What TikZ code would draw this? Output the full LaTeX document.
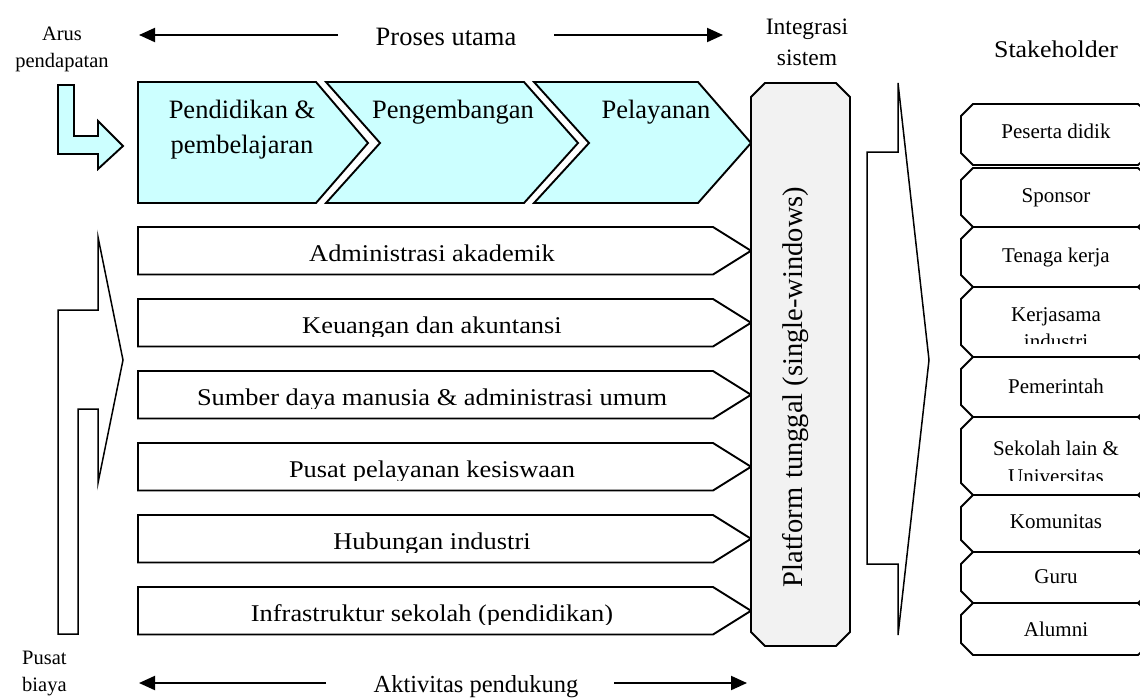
\documentclass[tikz,border=0pt]{standalone}
\usepackage{fontspec}
\setmainfont{Liberation Serif}
\usepackage{graphicx}
\usetikzlibrary{arrows.meta}
\definecolor{chevfill}{HTML}{CCFFFF}
\definecolor{platfill}{HTML}{F2F2F2}
\newcommand\hstretch[1]{\scalebox{1.1}[1]{#1}}
\tikzset{
 boxline/.style={draw=black, line width=1.9pt, line join=miter},
 thinline/.style={draw=black, line width=1.5pt, line join=miter},
 bigtxt/.style={font=\fontsize{26.5}{35}\selectfont, inner sep=0pt},
 midtxt/.style={font=\fontsize{23.5}{31}\selectfont, inner sep=0pt},
 lbltxt/.style={font=\fontsize{20.5}{27}\selectfont, inner sep=0pt},
 rowtxt/.style={font=\fontsize{24}{28}\selectfont, inner sep=0pt, anchor=base},
 sktxt/.style={font=\fontsize{21}{26}\selectfont, inner sep=0pt},
 flowarrow/.style={line width=2pt, -{Triangle[length=16pt,width=14pt]}},
}
\newcommand\supportrow[3]{%
 \draw[boxline, fill=white] (138,#2) -- (713,#2) -- (751,#2+23.75) -- (713,#2+47.5) -- (138,#2+47.5) -- cycle;
 \begin{scope}
 \clip (139,#2) rectangle (749,#2+37.5);
 \node[rowtxt] (#1) at (432,#2+34.5) {\hstretch{#3}};
 \end{scope}}
\newcommand\stakebox[2]{%
 \draw[boxline, fill=white] (973,#1) -- (1138,#1) -- (1151,#1+12) -- (1151,#2-12) -- (1138,#2) -- (973,#2) -- (961,#2-12) -- (961,#1+12) -- cycle;}
\begin{document}
\begin{tikzpicture}[x=1pt,y=-1pt]
\useasboundingbox (0,0) rectangle (1140,697);

% ---- headings ----
\node[lbltxt, align=center] (arus) at (62,49) {Arus\\pendapatan};
\node[bigtxt, anchor=base] (proses) at (446,45) {Proses utama};
\node[midtxt, align=center] (integrasi) at (807,42) {Integrasi\\sistem};
\node[bigtxt, font=\fontsize{24}{30}\selectfont, anchor=base] (stakeholder) at (1056,57) {\scalebox{1.08}[1]{Stakeholder}};
\node[lbltxt, align=left, anchor=west] (pusat) at (22,673) {Pusat\\biaya};
\node[bigtxt, font=\fontsize{24.5}{30}\selectfont, anchor=base] (aktivitas) at (476,692) {Aktivitas pendukung};

\coordinate (pAs) at (338,35);  \coordinate (pAe) at (139,35);
\coordinate (pBs) at (554,35);  \coordinate (pBe) at (723,35);
\draw[flowarrow] (pAs) -- (pAe);
\draw[flowarrow] (pBs) -- (pBe);
\coordinate (aAs) at (326,683); \coordinate (aAe) at (139,683);
\coordinate (aBs) at (614,683); \coordinate (aBe) at (747,683);
\draw[flowarrow] (aAs) -- (aAe);
\draw[flowarrow] (aBs) -- (aBe);

% ---- revenue arrow ----
\draw[boxline, fill=chevfill] (58,85) -- (74,85) -- (74,136) -- (98,136) -- (98,121) -- (123,146) -- (98,169) -- (98,154) -- (58,154) -- cycle;

% ---- main process chevrons ----
\draw[boxline, fill=chevfill] (138,82) -- (316,82) -- (368,143) -- (316,203) -- (138,203) -- cycle;
\draw[boxline, fill=chevfill] (326,82) -- (524,82) -- (578,143) -- (524,203) -- (326,203) -- (380,143) -- cycle;
\draw[boxline, fill=chevfill] (534,82) -- (698,82) -- (751,143) -- (698,203) -- (534,203) -- (589,143) -- cycle;
\node[bigtxt, align=center] (pendidikan) at (242,129.3) {Pendidikan \&\\pembelajaran};
\node[bigtxt, anchor=base] (pengembangan) at (453,118) {Pengembangan};
\node[bigtxt, anchor=base] (pelayanan) at (656,118) {Pelayanan};

% ---- support activities ----
\supportrow{adm}{227}{Administrasi akademik}
\supportrow{keu}{299}{Keuangan dan akuntansi}
\supportrow{sdm}{371}{Sumber daya manusia \& administrasi umum}
\supportrow{pus}{443}{Pusat pelayanan kesiswaan}
\supportrow{hub}{515}{Hubungan industri}
\supportrow{inf}{587}{Infrastruktur sekolah (pendidikan)}

% ---- cost arrow ----
\draw[thinline] (58,310) -- (98,310) -- (98,237) -- (123,360) -- (98,483) -- (98,409) -- (78,409) -- (78,634) -- (58,634) -- cycle;

% ---- platform ----
\draw[boxline, fill=platfill] (765,83) -- (836,83) -- (850,97) -- (850,632) -- (836,646) -- (765,646) -- (751,632) -- (751,97) -- cycle;
\node[bigtxt, font=\fontsize{28.5}{32}\selectfont, rotate=90] (platform) at (796,387) {Platform\hspace{9pt}tunggal (single-windows)};

% ---- big output arrow ----
\draw[thinline] (867,152) -- (898,152) -- (898,83) -- (929,360) -- (898,635) -- (898,564) -- (867,564) -- cycle;

% ---- stakeholders ----
\begin{scope}
\clip (0,0) rectangle (1140,697);
\stakebox{104}{165}
\stakebox{168}{227}
\stakebox{227}{287}
\stakebox{287}{357}
\stakebox{357}{417}
\stakebox{417}{495}
\stakebox{495}{552}
\stakebox{552}{603}
\stakebox{603}{655}
\end{scope}
\node[sktxt, anchor=base] (peserta) at (1056,138) {Peserta didik};
\node[sktxt, anchor=base] (sponsor) at (1056,202) {Sponsor};
\node[sktxt, anchor=base] (tenaga) at (1056,262) {Tenaga kerja};
\begin{scope}
\clip (962,288) rectangle (1139,343);
\node[sktxt, font=\fontsize{21}{27}\selectfont, align=center] (kerjasama) at (1056,328) {Kerjasama\\industri};
\end{scope}
\node[sktxt, anchor=base] (pemerintah) at (1056,393) {Pemerintah};
\begin{scope}
\clip (962,418) rectangle (1139,480);
\node[sktxt, font=\fontsize{21}{28}\selectfont, align=center] (sekolah) at (1056,462) {Sekolah lain \&\\Universitas};
\end{scope}
\node[sktxt, anchor=base] (komunitas) at (1056,528.5) {Komunitas};
\node[sktxt, anchor=base] (guru) at (1056,583.5) {Guru};
\node[sktxt, anchor=base] (alumni) at (1056,636) {Alumni};
\end{tikzpicture}
\end{document}
